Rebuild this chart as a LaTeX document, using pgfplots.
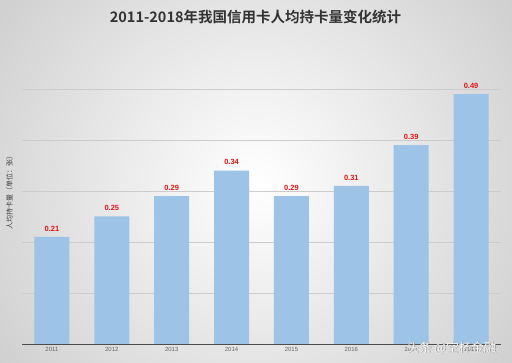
\documentclass[border=0pt]{standalone}
\usepackage{pgfplots}
\pgfplotsset{compat=1.18}
\usepackage{fontspec}
\setmainfont{Liberation Sans}
\newfontfamily\cjk{Noto Sans CJK SC}
\newfontfamily\cjkb{Noto Sans CJK SC Bold}
\definecolor{barblue}{RGB}{157,195,230}
\definecolor{bgray}{RGB}{198,198,198}
\definecolor{lblred}{RGB}{230,20,20}
\begin{document}
\begin{tikzpicture}[x=1pt,y=1pt]
\useasboundingbox (0,0) rectangle (512,363);
\shade[inner color=white, outer color=bgray] (-120,-200) rectangle (632,560);
\node[font=\cjkb\fontsize{14.5}{16}\selectfont, text=black!80] at (255.5,346) {2011-2018年我国信用卡人均持卡量变化统计};
\begin{axis}[
  at={(22pt,19pt)}, anchor=south west,
  scale only axis, width=479pt, height=306pt,
  xmin=-0.5, xmax=7.5, ymin=0, ymax=0.6,
  xtick=data,
  xticklabels={2011,2012,2013,2014,2015,2016,2017,2018},
  ytick={0.1,0.2,0.3,0.4,0.5},
  yticklabels={},
  ymajorgrids, grid style={gray!40, line width=0.8pt},
  axis line style={draw=none},
  axis x line*=bottom,
  x axis line style={draw=black!70, line width=0.8pt},
  major tick length=0pt,
  tick label style={font=\fontsize{6}{7}\selectfont, text=black!60},
  /pgf/number format/assume math mode=true,
  ylabel={\cjk 人均持卡量（单位：张）},
  ylabel style={font=\cjk\fontsize{7}{8}\selectfont, text=black!75, at={(axis description cs:-0.012,0.50)}, anchor=south},
  ybar, bar width=35pt,
  nodes near coords,
  nodes near coords style={font=\bfseries\fontsize{7.5}{8}\selectfont, text=lblred},
  every node near coord/.append style={yshift=2pt},
]
\addplot[fill=barblue, draw=none] coordinates {(0,0.21) (1,0.25) (2,0.29) (3,0.34) (4,0.29) (5,0.31) (6,0.39) (7,0.49)};
\end{axis}
\node[font=\cjk\fontsize{12.5}{14}\selectfont, text=black!55, anchor=east] at (500.5,14.5) {头条 @空杯金融};
\node[font=\cjk\fontsize{12.5}{14}\selectfont, text=white, anchor=east] at (500,15) {头条 @空杯金融};
\end{tikzpicture}
\end{document}
